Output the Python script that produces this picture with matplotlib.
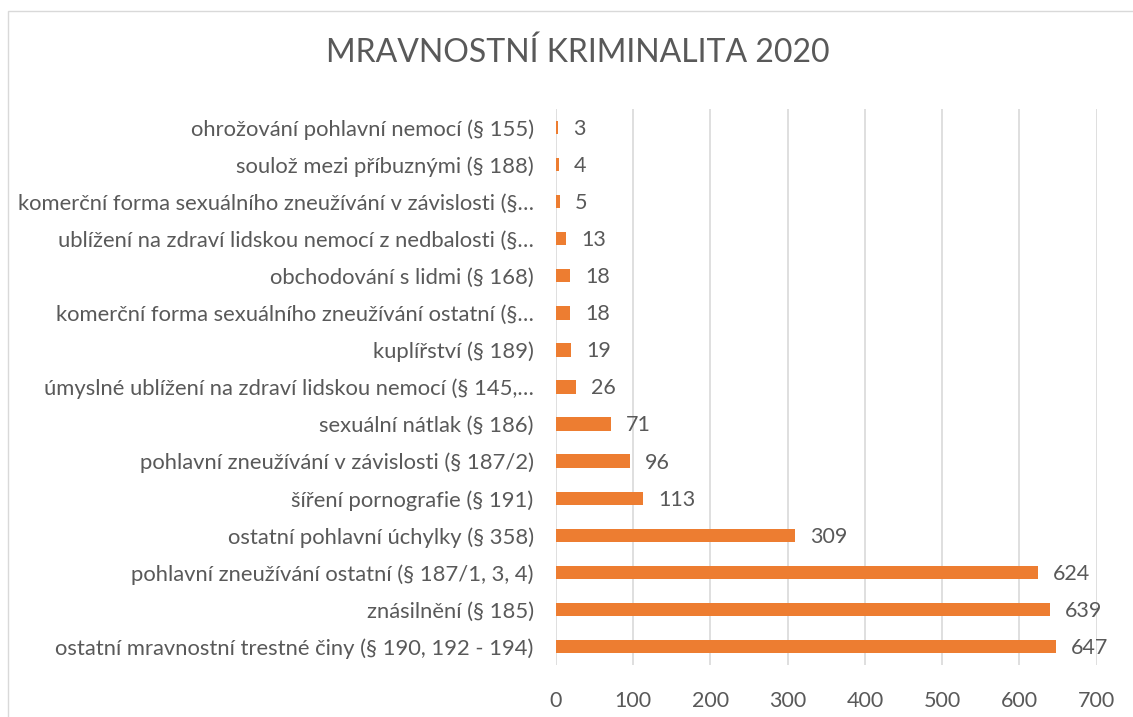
import matplotlib.pyplot as plt
from matplotlib.patches import Rectangle

kategorie = [
    "ohrožování pohlavní nemocí (§ 155)",
    "soulož mezi příbuznými (§ 188)",
    "komerční forma sexuálního zneužívání v závislosti (§…",
    "ublížení na zdraví lidskou nemocí z nedbalosti (§…",
    "obchodování s lidmi (§ 168)",
    "komerční forma sexuálního zneužívání ostatní (§…",
    "kuplířství (§ 189)",
    "úmyslné ublížení na zdraví lidskou nemocí (§ 145,…",
    "sexuální nátlak (§ 186)",
    "pohlavní zneužívání v závislosti (§ 187/2)",
    "šíření pornografie (§ 191)",
    "ostatní pohlavní úchylky (§ 358)",
    "pohlavní zneužívání ostatní (§ 187/1, 3, 4)",
    "znásilnění (§ 185)",
    "ostatní mravnostní trestné činy (§ 190, 192 - 194)",
]
pocty = [3, 4, 5, 13, 18, 18, 19, 26, 71, 96, 113, 309, 624, 639, 647]
osa_x = [0, 100, 200, 300, 400, 500, 600, 700]

seda = '#595959'
oranzova = '#ED7D31'
plt.rcParams['font.family'] = ['Lato', 'DejaVu Sans']

fig = plt.figure(figsize=(11.33, 7.17), dpi=100)
ax = fig.add_axes([0.4906, 0.0725, 0.4774, 0.7755])

y = range(len(kategorie))
ax.barh(y, pocty, height=0.36, color=oranzova, zorder=3)
for i, v in enumerate(pocty):
    ax.annotate(str(v), (v, i), xytext=(11, -1), textcoords='offset points',
                va='center', ha='left', fontsize=15.5, color=seda)

ax.set_xlim(0, 700)
ax.set_ylim(len(kategorie) - 0.5, -0.5)
ax.set_xticks(osa_x)
ax.set_yticks(list(y))
ax.set_yticklabels(kategorie, fontsize=15.8)
ax.tick_params(axis='both', length=0, labelcolor=seda)
ax.tick_params(axis='x', labelsize=15.5, pad=19)
ax.tick_params(axis='y', pad=16)
ax.grid(axis='x', color='#D9D9D9', linewidth=1.2, zorder=0)
for s in ax.spines.values():
    s.set_visible(False)

fig.text(0.51, 0.927, "MRAVNOSTNÍ KRIMINALITA 2020", ha='center', va='center',
         fontsize=23, color=seda)

fig.patches.append(Rectangle((8 / 1133, -0.1), 1.2, 1 - 11 / 717 + 0.1,
                             transform=fig.transFigure, fill=False,
                             edgecolor='#D9D9D9', linewidth=1))

fig.savefig('out.png', dpi=100)
